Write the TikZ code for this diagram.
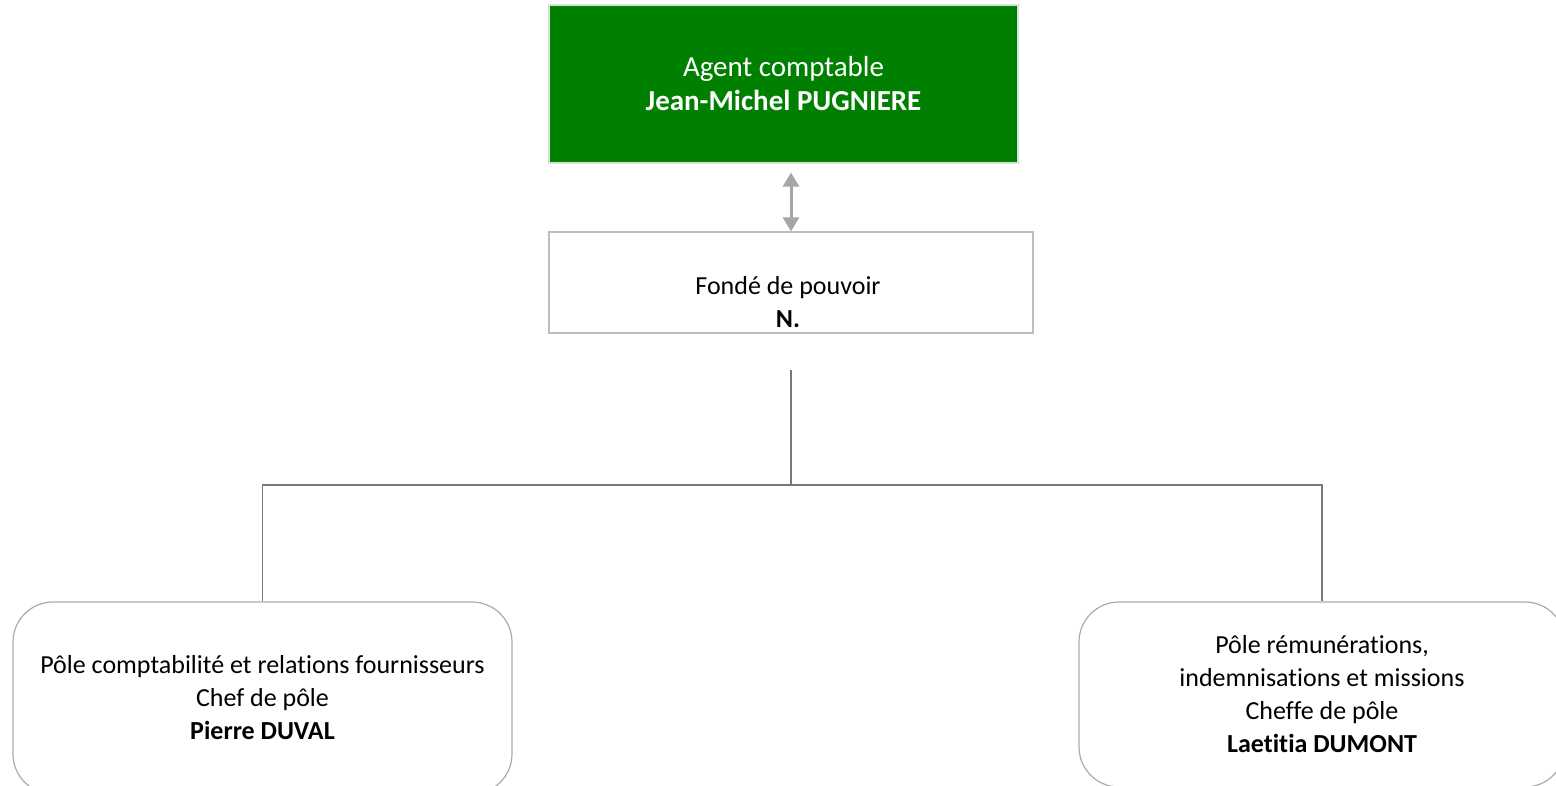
\documentclass[tikz,border=0pt]{standalone}
\usepackage{fontspec}
\setmainfont{Carlito}[Ligatures=NoCommon]
\usetikzlibrary{arrows.meta}

\definecolor{agentgreen}{RGB}{0,128,0}
\definecolor{agentrim}{RGB}{214,226,214}
\definecolor{boxgray}{RGB}{190,190,190}
\definecolor{polegray}{RGB}{170,170,170}
\definecolor{arrowgray}{RGB}{166,166,166}
\definecolor{linkgray}{RGB}{120,120,120}

\tikzset{
    orgtext/.style={font=\fontsize{13}{16.5}\selectfont, align=center},
    agentbox/.style={font=\fontsize{14.5}{17}\selectfont, align=center,
        draw=agentrim, line width=0.6pt, fill=agentgreen, text=white},
    fondebox/.style={draw=boxgray, line width=0.6pt, fill=white},
    polebox/.style={orgtext, draw=polegray, line width=0.6pt, rounded corners=20pt},
    link/.style={draw=linkgray, line width=0.6pt},
    dblarrow/.style={draw=arrowgray, line width=1.5pt,
        {Triangle[width=8pt,length=7pt]}-{Triangle[width=8pt,length=7pt]}}
}

\begin{document}
\begin{tikzpicture}[x=0.5pt,y=-0.5pt]
    \useasboundingbox (0,0) rectangle (1556,786);
    \clip (0,0) rectangle (1556,786);
    \node[agentbox, minimum width=234.5pt, minimum height=79pt] (agent) at (783.5,84)
        {Agent comptable\\ \textbf{Jean-Michel PUGNIERE}};
    \node[fondebox, minimum width=242pt, minimum height=50.5pt] (fonde) at (791,282.5) {};
    \node[orgtext] (fondetxt) at (788,302) {Fondé de pouvoir\\ \textbf{N.}};
    \node[polebox, minimum width=249.5pt, minimum height=96pt] (pole1) at (262.5,698)
        {Pôle comptabilité et relations fournisseurs\\ Chef de pôle\\ \textbf{Pierre DUVAL}};
    \node[polebox, minimum width=243pt, minimum height=92.5pt] (pole2) at (1322,694.5)
        {Pôle rémunérations,\\ indemnisations et missions\\ Cheffe de pôle\\ \textbf{Laetitia DUMONT}};
    \coordinate (split) at (791,370);
    \coordinate (bus) at (791,485);
    \draw[dblarrow, shorten <=4.5pt] (agent.south -| fonde.north) -- (fonde.north);
    \draw[link] (split) -- (bus) -| (pole1.north);
    \draw[link] (bus) -| (pole2.north);
\end{tikzpicture}
\end{document}
